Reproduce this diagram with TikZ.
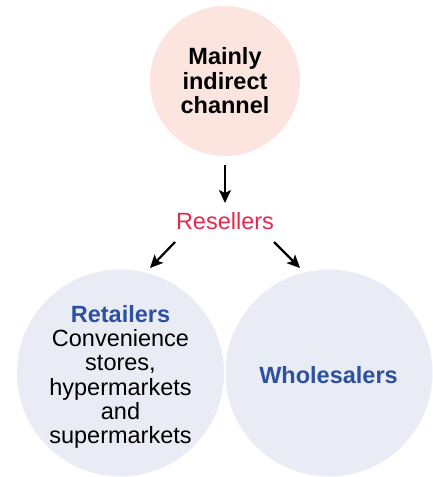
\documentclass[tikz,border=0pt]{standalone}
\usepackage{fontspec}
\setmainfont{Liberation Sans}
\usetikzlibrary{arrows.meta}
\definecolor{topfill}{HTML}{FDE5DF}
\definecolor{botfill}{HTML}{E9EBF5}
\definecolor{bluetext}{HTML}{2E519F}
\definecolor{redtext}{HTML}{E8294F}
\tikzset{
  circ/.style={circle, draw=none, inner sep=0pt},
  txt/.style={inner sep=0pt, align=center, font=\fontsize{23.5}{24.3}\selectfont},
  arr/.style={line width=2.2pt, -{Stealth[length=13pt,width=12pt,inset=3pt]}},
}
\begin{document}
\begin{tikzpicture}[x=1pt,y=-1pt]
\useasboundingbox (0,0) rectangle (433,477);
\node[circ, fill=topfill, minimum size=150pt] (top) at (225,81) {};
\node[circ, fill=botfill, minimum size=207pt] (left) at (120.5,373) {};
\node[circ, fill=botfill, minimum size=207pt] (right) at (329,373) {};
\node[txt, font=\fontsize{23.5}{24.5}\selectfont\bfseries] (toptxt) at (225,81) {Mainly\\indirect\\channel};
\node[txt, text=redtext, anchor=base] (res) at (225,229) {Resellers};
\node[txt] (lefttxt) at (120.5,377) {\textcolor{bluetext}{\bfseries Retailers}\\Convenience\\stores,\\hypermarkets\\and\\supermarkets};
\node[txt, text=bluetext, font=\fontsize{23.5}{24.5}\selectfont\bfseries, anchor=base] (wtxt) at (328.5,383) {Wholesalers};
\coordinate (v1) at (225,165);
\coordinate (v2) at (225,203);
\coordinate (l1) at (175,242);
\coordinate (l2) at (150,268);
\coordinate (r1) at (274,242);
\coordinate (r2) at (300,268);
\draw[arr] (v1) -- (v2);
\draw[arr] (l1) -- (l2);
\draw[arr] (r1) -- (r2);
\end{tikzpicture}
\end{document}
